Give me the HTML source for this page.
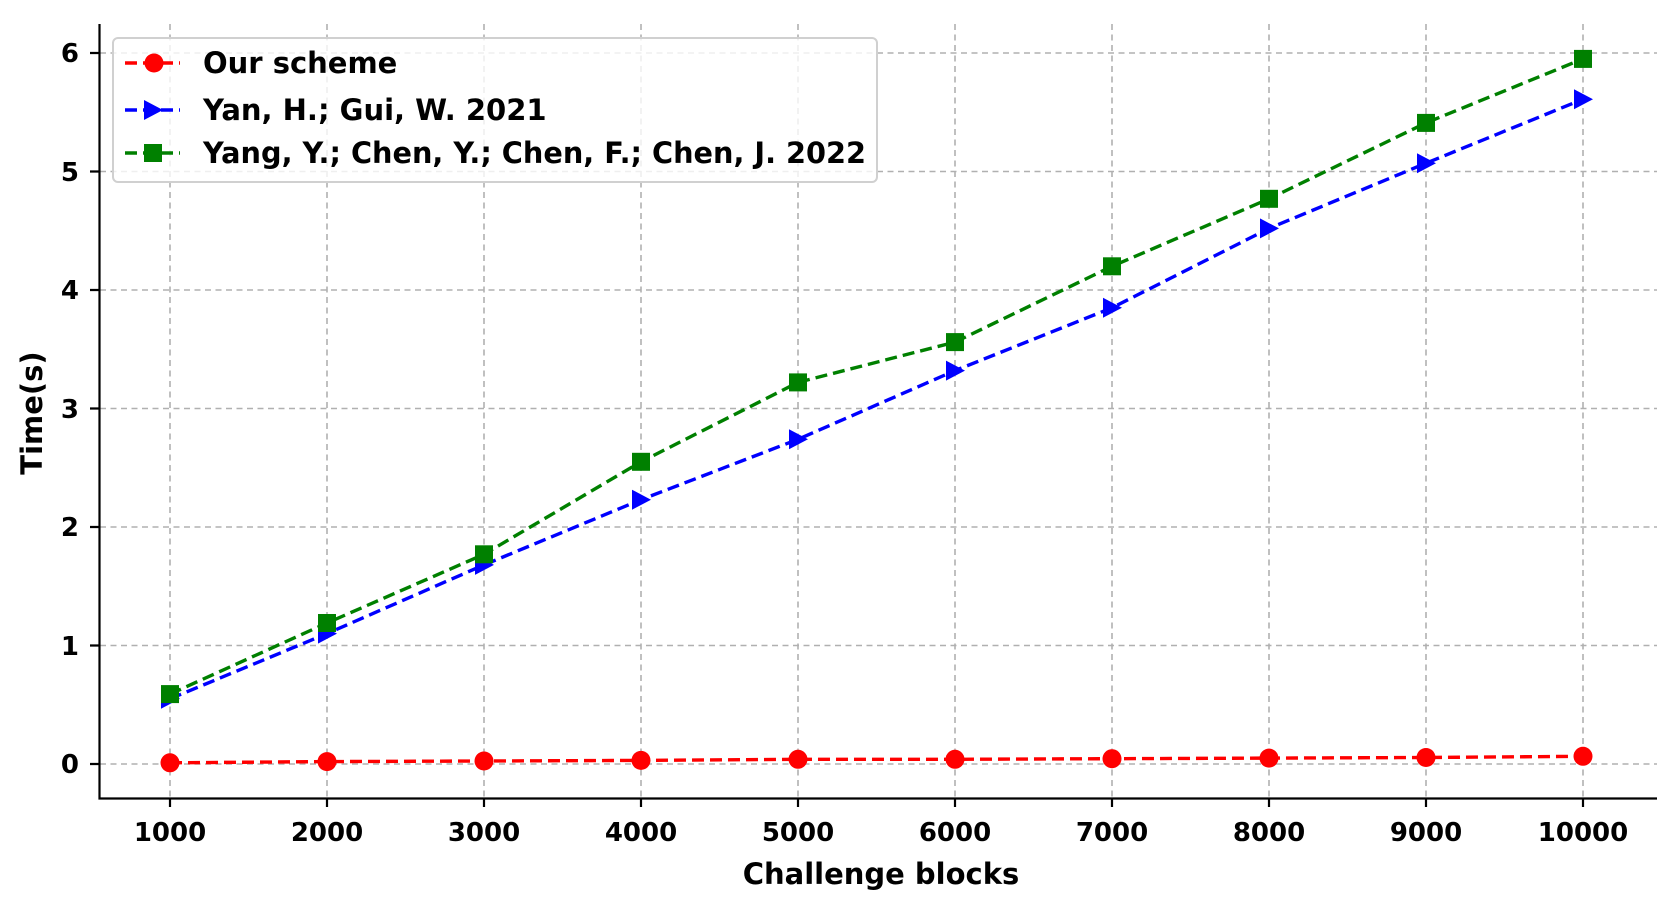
<!DOCTYPE html>
<html><head><meta charset="utf-8"><style>body{margin:0;background:#fff}svg{display:block}text{font-family:"DejaVu Sans","Liberation Sans",sans-serif;font-weight:bold}</style></head>
<body>
<svg width="1672" height="906" viewBox="0 0 1672 906" xmlns="http://www.w3.org/2000/svg">
<g stroke="#b0b0b0" stroke-width="1.6" stroke-dasharray="6,4.5">
<line x1="100" x2="1657" y1="764" y2="764"/><line x1="100" x2="1657" y1="645.5" y2="645.5"/><line x1="100" x2="1657" y1="527" y2="527"/><line x1="100" x2="1657" y1="408.5" y2="408.5"/><line x1="100" x2="1657" y1="290" y2="290"/><line x1="100" x2="1657" y1="171.5" y2="171.5"/><line x1="100" x2="1657" y1="53" y2="53"/>
<line y1="24" y2="798" x1="170" x2="170"/><line y1="24" y2="798" x1="327" x2="327"/><line y1="24" y2="798" x1="484" x2="484"/><line y1="24" y2="798" x1="641" x2="641"/><line y1="24" y2="798" x1="798" x2="798"/><line y1="24" y2="798" x1="955" x2="955"/><line y1="24" y2="798" x1="1112" x2="1112"/><line y1="24" y2="798" x1="1269" x2="1269"/><line y1="24" y2="798" x1="1426" x2="1426"/><line y1="24" y2="798" x1="1583" x2="1583"/>
</g>
<g fill="none" stroke-width="3.4" stroke-dasharray="12,6">
<polyline stroke="#ff0000" points="170,762.8 327,761.6 484,761 641,760.4 798,759.3 955,759.3 1112,758.7 1269,758.1 1426,757.5 1583,756.3"/>
<polyline stroke="#0000ff" points="170,698.8 327,633.6 484,564.9 641,499.7 798,439.3 955,370.6 1112,307.8 1269,228.4 1426,163.2 1583,99.2"/>
<polyline stroke="#008000" points="170,694.1 327,623 484,554.3 641,461.8 798,382.4 955,342.1 1112,266.3 1269,198.8 1426,122.9 1583,58.9"/>
</g>
<g fill="#ff0000">
<circle cx="170" cy="762.8" r="9.5"/><circle cx="327" cy="761.6" r="9.5"/><circle cx="484" cy="761" r="9.5"/><circle cx="641" cy="760.4" r="9.5"/><circle cx="798" cy="759.3" r="9.5"/><circle cx="955" cy="759.3" r="9.5"/><circle cx="1112" cy="758.7" r="9.5"/><circle cx="1269" cy="758.1" r="9.5"/><circle cx="1426" cy="757.5" r="9.5"/><circle cx="1583" cy="756.3" r="9.5"/>
</g>
<g fill="#0000ff">
<path d="M161,688.8l19,10l-19,10z"/><path d="M318,623.6l19,10l-19,10z"/><path d="M475,554.9l19,10l-19,10z"/><path d="M632,489.7l19,10l-19,10z"/><path d="M789,429.3l19,10l-19,10z"/><path d="M946,360.6l19,10l-19,10z"/><path d="M1103,297.8l19,10l-19,10z"/><path d="M1260,218.4l19,10l-19,10z"/><path d="M1417,153.2l19,10l-19,10z"/><path d="M1574,89.2l19,10l-19,10z"/>
</g>
<g fill="#008000">
<rect x="161" y="685.1" width="18" height="18"/><rect x="318" y="614" width="18" height="18"/><rect x="475" y="545.3" width="18" height="18"/><rect x="632" y="452.8" width="18" height="18"/><rect x="789" y="373.4" width="18" height="18"/><rect x="946" y="333.1" width="18" height="18"/><rect x="1103" y="257.3" width="18" height="18"/><rect x="1260" y="189.8" width="18" height="18"/><rect x="1417" y="113.9" width="18" height="18"/><rect x="1574" y="49.9" width="18" height="18"/>
</g>
<g stroke="#000" stroke-width="2.2" fill="none">
<path d="M99.5,24V798.5H1657"/>
<path d="M90,764h10M90,645.5h10M90,527h10M90,408.5h10M90,290h10M90,171.5h10M90,53h10"/>
<path d="M170,798v9M327,798v9M484,798v9M641,798v9M798,798v9M955,798v9M1112,798v9M1269,798v9M1426,798v9M1583,798v9"/>
</g>
<g font-size="26" text-anchor="end">
<text x="79" y="773">0</text><text x="79" y="655">1</text><text x="79" y="536">2</text><text x="79" y="418">3</text><text x="79" y="299">4</text><text x="79" y="181">5</text><text x="79" y="62">6</text>
</g>
<g font-size="26" text-anchor="middle">
<text x="170" y="841">1000</text><text x="327" y="841">2000</text><text x="484" y="841">3000</text><text x="641" y="841">4000</text><text x="798" y="841">5000</text><text x="955" y="841">6000</text><text x="1112" y="841">7000</text><text x="1269" y="841">8000</text><text x="1426" y="841">9000</text><text x="1583" y="841">10000</text>
</g>
<text x="881" y="884" font-size="29" text-anchor="middle">Challenge blocks</text>
<text transform="translate(42,413) rotate(-90)" font-size="29" text-anchor="middle">Time(s)</text>
<rect x="113" y="38" width="764" height="144" rx="5" fill="#fff" fill-opacity="0.8" stroke="#d0d0d0" stroke-width="2"/>
<g stroke-width="3.4" stroke-dasharray="12,6">
<line x1="125" x2="180" y1="63" y2="63" stroke="#ff0000"/>
<line x1="125" x2="180" y1="110" y2="110" stroke="#0000ff"/>
<line x1="125" x2="180" y1="153" y2="153" stroke="#008000"/>
</g>
<circle cx="154" cy="63" r="9.5" fill="#ff0000"/>
<path d="M144,100l19,10l-19,10z" fill="#0000ff"/>
<rect x="144" y="144" width="18" height="18" fill="#008000"/>
<g font-size="29">
<text x="203" y="73">Our scheme</text>
<text x="203" y="120">Yan, H.; Gui, W. 2021</text>
<text x="203" y="163" textLength="663" lengthAdjust="spacingAndGlyphs">Yang, Y.; Chen, Y.; Chen, F.; Chen, J. 2022</text>
</g>
</svg>
</body></html>
